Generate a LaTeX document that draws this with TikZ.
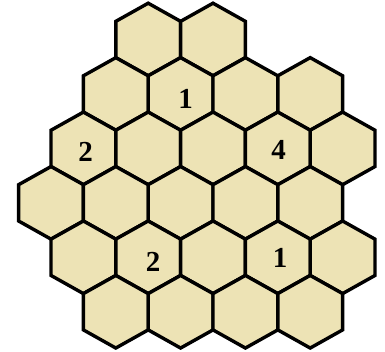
\documentclass[tikz,border=0pt]{standalone}
\usepackage{fontspec}
\setmainfont{Liberation Serif}
\definecolor{hexfill}{RGB}{237,227,181}
\tikzset{
  hexcell/.style={draw=black, fill=hexfill, line width=3.4pt, line join=miter},
  numlabel/.style={font=\fontsize{29}{29}\selectfont\bfseries, inner sep=0pt}
}
\newcommand{\hexS}{32.4}
\newcommand{\hexR}{36.3}
\newcommand{\hexcellat}[2]{%
  \pgfmathsetmacro{\cx}{51+#1*\hexS}%
  \pgfmathsetmacro{\cy}{39.5+#2*1.5*\hexR}%
  \draw[hexcell] (\cx,\cy-\hexR) -- (\cx+\hexS,\cy-\hexR/2) -- (\cx+\hexS,\cy+\hexR/2)
     -- (\cx,\cy+\hexR) -- (\cx-\hexS,\cy+\hexR/2) -- (\cx-\hexS,\cy-\hexR/2) -- cycle;%
}
\begin{document}
\begin{tikzpicture}[x=1pt,y=-1pt]
\useasboundingbox (0,0) rectangle (385,352);
\foreach \h/\r in {3/0,5/0,
                   2/1,4/1,6/1,8/1,
                   1/2,3/2,5/2,7/2,9/2,
                   0/3,2/3,4/3,6/3,8/3,
                   1/4,3/4,5/4,7/4,9/4,
                   2/5,4/5,6/5,8/5}{\hexcellat{\h}{\r}}
\node[numlabel] (n1) at (185.5,99) {1};
\node[numlabel] (n2) at (85.5,151.7) {2};
\node[numlabel] (n3) at (278.5,149.5) {4};
\node[numlabel] (n4) at (153,262) {2};
\node[numlabel] (n5) at (280,258) {1};
\end{tikzpicture}
\end{document}
